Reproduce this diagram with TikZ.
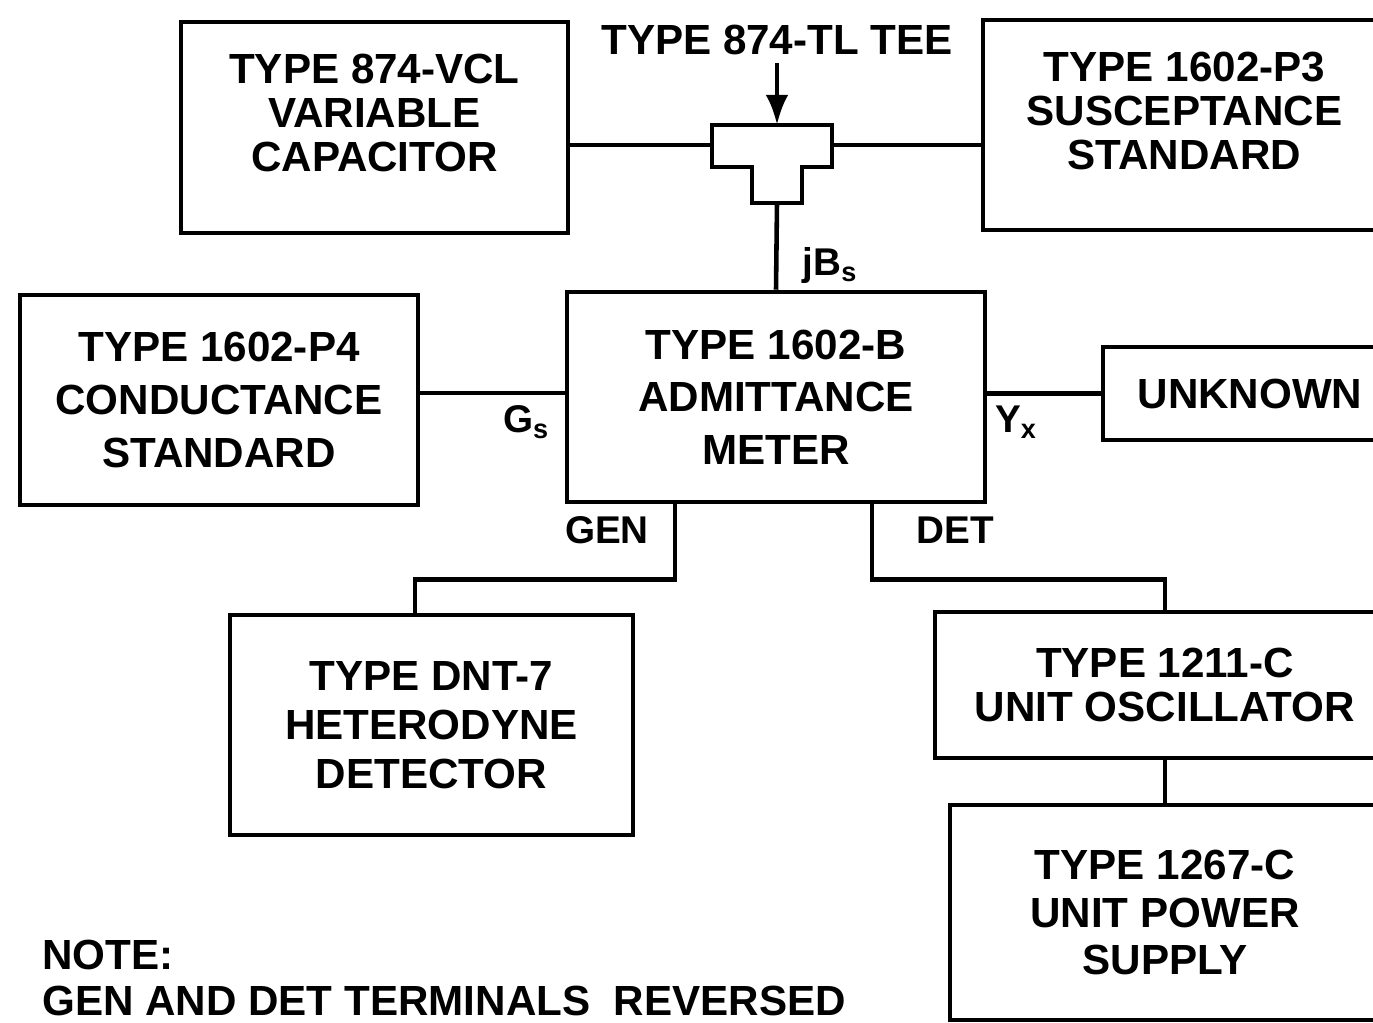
\documentclass[tikz,border=0pt]{standalone}
\usepackage{fontspec}
\setmainfont{Liberation Sans}
\usetikzlibrary{arrows.meta,positioning}

\begin{document}
\begin{tikzpicture}[x=0.02cm, y=-0.02cm, line width=2.6pt,
    box/.style={draw, align=center, font=\fontsize{24}{30}\selectfont\bfseries},
    tightbox/.style={box, font=\fontsize{24}{25}\selectfont\bfseries},
    lbl/.style={font=\fontsize{22}{26}\selectfont\bfseries}]
  \clip (0,0) rectangle (1373,1023);
  % top row: capacitor, tee, susceptance
  \node[tightbox, minimum width=7.74cm, minimum height=4.22cm] (vcl) at (374.5,127.5)
    {TYPE 874-VCL\\VARIABLE\\CAPACITOR\\[-0.3cm]};
  \node[tightbox, minimum width=8.06cm, minimum height=4.2cm] (p3) at (1184.5,125)
    {TYPE 1602-P3\\SUSCEPTANCE\\STANDARD\\[-0.3cm]};
  \node[lbl, font=\fontsize{24}{26}\selectfont\bfseries] (teelbl) at (777,40) {TYPE 874-TL TEE};
  \draw (712,125) -- (832,125) -- (832,167) -- (802,167) -- (802,203)
    -- (752,203) -- (752,167) -- (712,167) -- cycle;
  \coordinate (teeL) at (712,145);
  \coordinate (teeR) at (832,145);
  \coordinate (teeT) at (777,125);
  \coordinate (teeB) at (777,203);
  \draw[-{Latex[length=0.6cm,width=0.45cm]}] (teelbl.south) -- (teeT);
  \draw (vcl.east |- teeL) -- (teeL);
  \draw (teeR) -- (p3.west |- teeR);

  % middle row
  \node[box, minimum width=8.36cm, minimum height=4.2cm] (meter) at (776,397)
    {TYPE 1602-B\\ADMITTANCE\\METER};
  \node[box, minimum width=7.96cm, minimum height=4.2cm] (p4) at (219,400)
    {TYPE 1602-P4\\CONDUCTANCE\\STANDARD};
  \node[box, minimum width=5.88cm, minimum height=1.86cm] (unk) at (1250,393.5) {UNKNOWN};
  \draw (teeB) -- (meter.north);
  \draw ([yshift=0.14cm]p4.east) -- ([yshift=0.14cm]p4.east -| meter.west);
  \draw (unk.west) -- (unk.west -| meter.east);
  \node[lbl] (jbs) at (830,266) {jB\textsubscript{s}};
  \node[lbl] (gs) at (526,422) {G\textsubscript{s}};
  \node[lbl] (yx) at (1016,422) {Y\textsubscript{x}};

  % bottom row
  \node[box, font=\fontsize{24}{28}\selectfont\bfseries, minimum width=8.06cm,
    minimum height=4.4cm] (dnt) at (431.5,725) {TYPE DNT-7\\HETERODYNE\\DETECTOR};
  \node[tightbox, minimum width=9.2cm, minimum height=2.92cm] (osc) at (1165,685)
    {TYPE 1211-C\\UNIT OSCILLATOR};
  \node[box, font=\fontsize{24}{27}\selectfont\bfseries, minimum width=8.6cm,
    minimum height=4.3cm] (psu) at (1165,912.5) {TYPE 1267-C\\UNIT POWER\\SUPPLY};
  \draw ([xshift=-2.02cm]meter.south) -- ++(0,75) -| ([xshift=-0.33cm]dnt.north);
  \draw ([xshift=1.92cm]meter.south) -- ++(0,75) -| (osc.north);
  \draw (osc.south) -- (psu.north);
  \node[lbl] (gen) at (607,530) {GEN};
  \node[lbl] (det) at (955,530) {DET};

  % note
  \node[lbl, font=\fontsize{24}{27}\selectfont\bfseries, anchor=base west,
    inner sep=0pt] (note) at (40,969) {NOTE:};
  \node[lbl, font=\fontsize{24}{27}\selectfont\bfseries, anchor=base west,
    inner sep=0pt] (notetxt) at (40,1015) {GEN AND DET TERMINALS\ \ REVERSED};
\end{tikzpicture}
\end{document}
